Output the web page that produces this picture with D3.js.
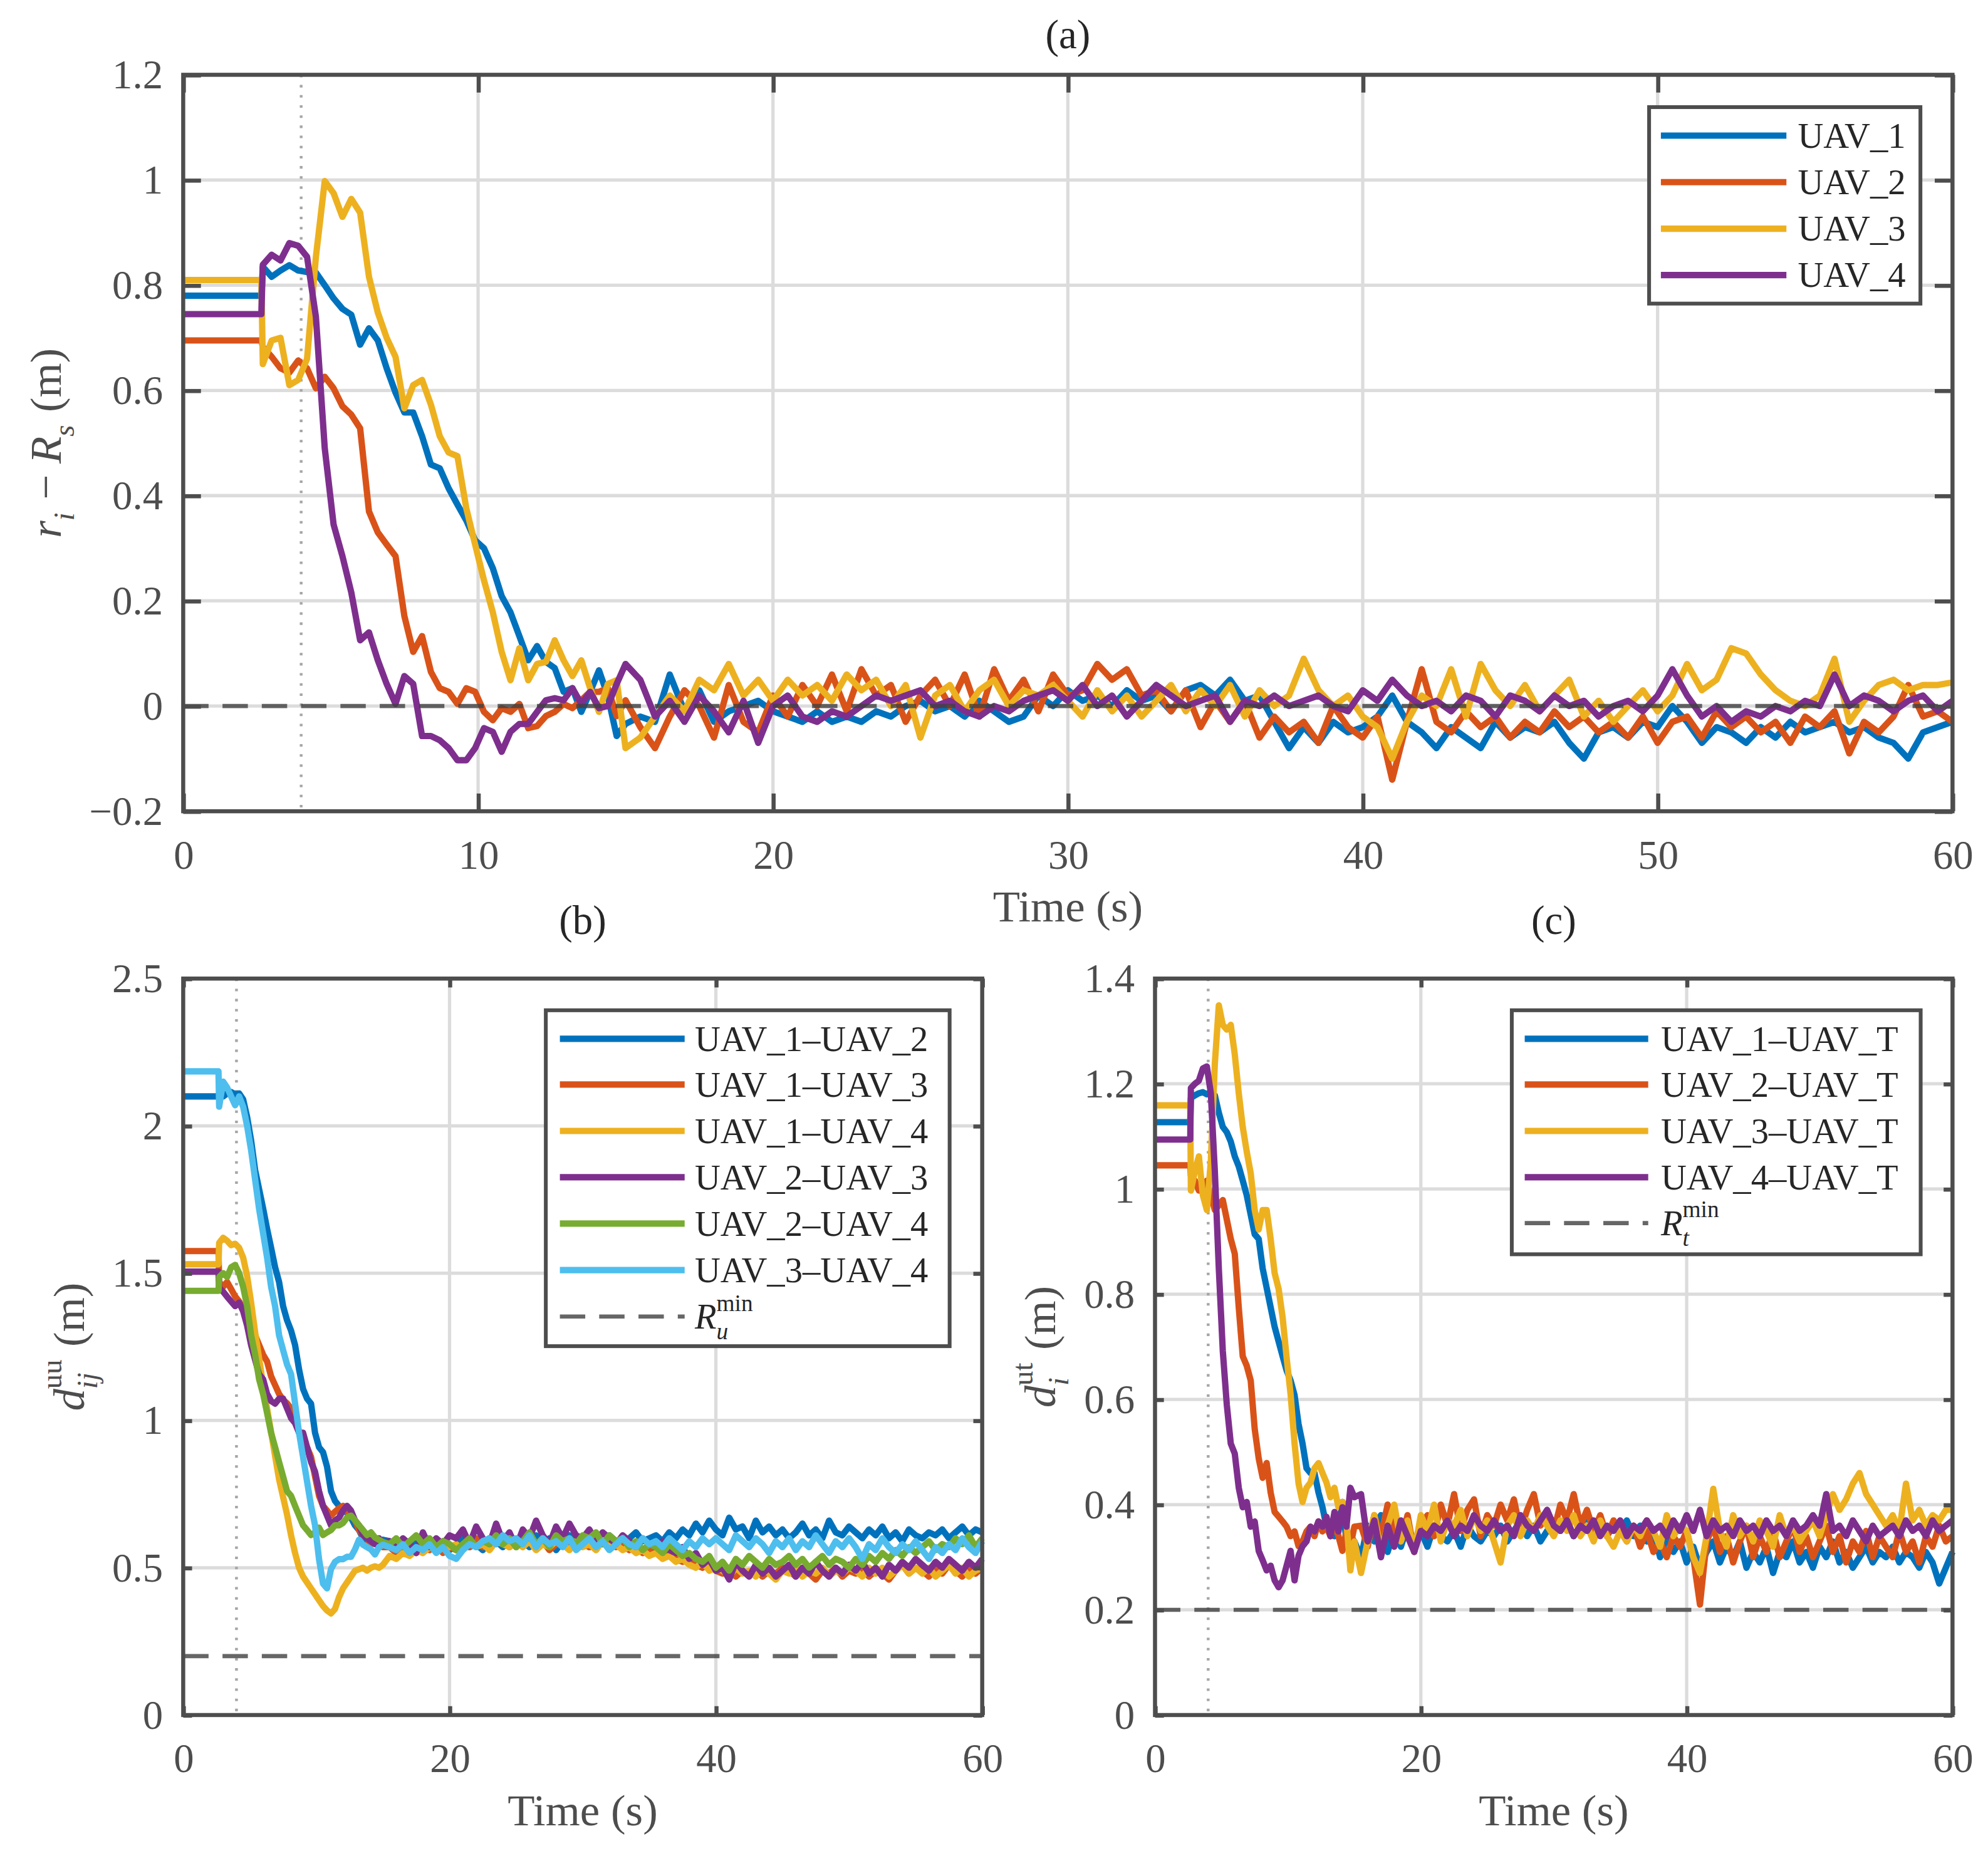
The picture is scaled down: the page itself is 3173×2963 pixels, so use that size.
<!DOCTYPE html>
<html>
<head>
<meta charset="UTF-8">
<title>UAV distances</title>
<script src="https://d3js.org/d3.v7.min.js"></script>
<style>
body { margin: 0; background: #fff; }
</style>
</head>
<body>
<div id="chart"></div>
<script>

// sample times (s): constant start, transient, steady part
var tStep = [0, 2.65]
var tRise = [2.7, 3.0, 3.3, 3.6, 3.9, 4.2, 4.5, 4.8, 5.1, 5.4,
  5.7, 6.0, 6.3, 6.6, 6.9, 7.2, 7.5, 7.8, 8.1, 8.4,
  8.7, 9.0, 9.3, 9.6, 9.9, 10.2, 10.5, 10.8, 11.1, 11.4,
  11.7, 12.0, 12.3, 12.6, 12.9, 13.2, 13.5, 13.8, 14.1, 14.4,
  14.7, 15.0]
var tTail = [15.5, 16, 16.5, 17, 17.5, 18, 18.5, 19, 19.5, 20,
  20.5, 21, 21.5, 22, 22.5, 23, 23.5, 24, 24.5, 25,
  25.5, 26, 26.5, 27, 27.5, 28, 28.5, 29, 29.5, 30,
  30.5, 31, 31.5, 32, 32.5, 33, 33.5, 34, 34.5, 35,
  35.5, 36, 36.5, 37, 37.5, 38, 38.5, 39, 39.5, 40,
  40.5, 41, 41.5, 42, 42.5, 43, 43.5, 44, 44.5, 45,
  45.5, 46, 46.5, 47, 47.5, 48, 48.5, 49, 49.5, 50,
  50.5, 51, 51.5, 52, 52.5, 53, 53.5, 54, 54.5, 55,
  55.5, 56, 56.5, 57, 57.5, 58, 58.5, 59, 59.5, 60]
var time = tStep.concat(tRise, tTail)
var eventTime = 4

// (a) r_i - R_s
var aNames = ["UAV_1", "UAV_2", "UAV_3", "UAV_4"]
var aUav1 = [0.78, 0.78,
  0.835, 0.816, 0.828, 0.838, 0.828, 0.825, 0.824, 0.80, 0.775, 0.755,
  0.744, 0.687, 0.718, 0.695, 0.642, 0.596, 0.558, 0.558, 0.513, 0.459,
  0.452, 0.414, 0.383, 0.353, 0.315, 0.30, 0.262, 0.209, 0.178, 0.133,
  0.087, 0.114, 0.084, 0.072, 0.027, 0.034, -0.011, 0.027, 0.068, 0.019,
  -0.057, -0.034,
  -0.02, -0.03, 0.06, -0.01, 0.03, -0.03, -0.01, 0.0, 0.01, -0.01,
  -0.02, -0.03, -0.01, -0.03, -0.02, -0.03, -0.01, -0.02, 0.0, 0.01,
  -0.01, 0.0, -0.02, 0.01, -0.01, -0.03, -0.02, 0.02, 0.0, 0.03,
  0.01, 0.02, 0.0, 0.03, 0.01, 0.02, -0.01, 0.03, 0.04, 0.02,
  0.05, 0.01, 0.02, -0.03, -0.08, -0.04, -0.07, -0.03, -0.05, -0.04,
  -0.02, 0.02, -0.03, -0.05, -0.08, -0.04, -0.06, -0.08, -0.03, -0.06,
  -0.04, -0.05, -0.03, -0.07, -0.1, -0.05, -0.04, -0.06, -0.03, -0.04,
  0.0, -0.03, -0.07, -0.04, -0.05, -0.07, -0.04, -0.06, -0.03, -0.05,
  -0.04, -0.03, -0.05, -0.04, -0.06, -0.07, -0.1, -0.05, -0.04, -0.03]
var aUav2 = [0.695, 0.695,
  0.683, 0.664, 0.642, 0.634, 0.657, 0.642, 0.604, 0.626, 0.604, 0.57,
  0.554, 0.528, 0.37, 0.33, 0.307, 0.285, 0.171, 0.103, 0.133, 0.065,
  0.034, 0.027, 0.004, 0.034, 0.027, -0.011, -0.027, -0.004, -0.011, 0.004,
  -0.042, -0.038, -0.019, -0.011, 0.004, -0.004, 0.011, 0.027, 0.027, 0.034,
  -0.019, 0.011,
  -0.04, -0.08, -0.02, 0.03, 0.0, -0.06, 0.04, -0.03, -0.05, 0.02,
  -0.02, 0.04, 0.0, 0.06, -0.01, 0.07, 0.02, 0.04, -0.03, 0.02,
  0.05, 0.0, 0.06, -0.02, 0.07, 0.01, 0.05, -0.01, 0.06, 0.02,
  0.03, 0.08, 0.05, 0.07, 0.02, 0.03, -0.01, 0.03, -0.04, 0.01,
  -0.03, 0.01, -0.06, -0.02, -0.05, -0.03, -0.07, 0.0, -0.04, -0.06,
  -0.02, -0.14, -0.03, 0.07, -0.03, -0.05, -0.01, -0.04, -0.02, -0.06,
  -0.03, -0.05, -0.01, -0.04, -0.02, -0.05, -0.03, -0.06, -0.02, -0.07,
  -0.03, -0.02, -0.06, -0.01, -0.04, -0.02, -0.05, -0.03, -0.07, -0.02,
  -0.04, -0.01, -0.09, -0.03, -0.05, -0.02, 0.04, -0.02, -0.01, -0.03]
var aUav3 = [0.81, 0.81,
  0.65, 0.695, 0.70, 0.61, 0.62, 0.66, 0.854, 0.998, 0.975, 0.93,
  0.964, 0.938, 0.816, 0.748, 0.70, 0.664, 0.566, 0.61, 0.62, 0.573,
  0.513, 0.482, 0.475, 0.376, 0.307, 0.239, 0.178, 0.103, 0.049, 0.11,
  0.049, 0.08, 0.084, 0.125, 0.087, 0.057, 0.087, 0.034, -0.011, 0.042,
  0.049, -0.08,
  -0.06, -0.02, 0.02, -0.01, 0.05, 0.03, 0.08, 0.02, 0.05, 0.01,
  0.05, 0.02, 0.04, 0.01, 0.06, 0.03, 0.05, 0.0, 0.04, -0.06,
  0.02, 0.04, -0.01, 0.03, 0.05, 0.0, 0.03, 0.02, 0.04, 0.01,
  -0.02, 0.03, -0.01, 0.02, -0.02, 0.01, 0.04, -0.01, 0.03, 0.0,
  0.04, -0.02, 0.03, 0.0, 0.02, 0.09, 0.03, 0.0, 0.02, -0.02,
  -0.04, -0.1, -0.03, 0.02, 0.0, 0.07, -0.02, 0.08, 0.03, 0.0,
  0.04, -0.01, 0.02, 0.05, -0.02, 0.01, -0.03, 0.0, 0.03, -0.01,
  0.02, 0.08, 0.03, 0.05, 0.11, 0.1, 0.06, 0.03, 0.01, 0.0,
  0.02, 0.09, -0.03, 0.01, 0.04, 0.05, 0.03, 0.04, 0.04, 0.045]
var aUav4 = [0.745, 0.745,
  0.839, 0.858, 0.847, 0.88, 0.875, 0.854, 0.74, 0.49, 0.345, 0.285,
  0.216, 0.125, 0.14, 0.087, 0.042, 0.004, 0.057, 0.042, -0.057, -0.057,
  -0.065, -0.08, -0.103, -0.103, -0.08, -0.042, -0.049, -0.087, -0.049, -0.034,
  -0.034, -0.011, 0.011, 0.015, 0.011, 0.034, 0.004, 0.027, -0.004, 0,
  0.042, 0.08,
  0.05, -0.02, 0.01, -0.03, 0.02, -0.01, -0.05, 0.01, -0.07, 0.0,
  0.02, -0.02, -0.03, -0.01, -0.02, 0.0, 0.02, 0.01, 0.02, 0.03,
  0.0, 0.01, -0.01, -0.02, 0.0, -0.01, 0.01, 0.02, 0.03, 0.01,
  0.04, 0.0, 0.02, -0.02, 0.01, 0.04, 0.02, 0.0, 0.01, 0.02,
  -0.03, 0.01, 0.0, 0.02, 0.0, 0.01, 0.02, 0.0, -0.01, 0.03,
  0.01, 0.05, 0.02, 0.0, 0.01, -0.01, 0.02, 0.01, -0.02, 0.02,
  0.01, -0.01, 0.02, 0.0, 0.01, -0.02, 0.0, 0.01, -0.01, 0.02,
  0.07, 0.02, -0.02, 0.0, -0.03, -0.01, -0.02, 0.0, -0.01, 0.01,
  0.0, 0.06, 0.0, 0.02, 0.01, -0.01, 0.01, 0.02, -0.01, 0.01]

// (b) UAV-UAV distances
var bNames = ["UAV_1\u2013UAV_2", "UAV_1\u2013UAV_3", "UAV_1\u2013UAV_4",
  "UAV_2\u2013UAV_3", "UAV_2\u2013UAV_4", "UAV_3\u2013UAV_4"]
var b12 = [2.10, 2.10,
  2.11, 2.10, 2.11, 2.115, 2.107, 2.11, 2.09, 2.03, 1.95, 1.85,
  1.785, 1.72, 1.65, 1.586, 1.52, 1.47, 1.388, 1.34, 1.305, 1.256,
  1.173, 1.107, 1.074, 1.057, 0.958, 0.909, 0.892, 0.843, 0.76, 0.727,
  0.71, 0.702, 0.686, 0.67, 0.644, 0.628, 0.6, 0.595, 0.59, 0.6,
  0.585, 0.595,
  0.59, 0.58, 0.57, 0.59, 0.58, 0.6, 0.58, 0.57, 0.59, 0.56,
  0.58, 0.6, 0.57, 0.58, 0.56, 0.6, 0.59, 0.57, 0.6, 0.58,
  0.59, 0.57, 0.61, 0.58, 0.6, 0.56, 0.59, 0.61, 0.58, 0.6,
  0.57, 0.6, 0.58, 0.61, 0.59, 0.58, 0.6, 0.62, 0.59, 0.6,
  0.61, 0.59, 0.62, 0.6, 0.63, 0.61, 0.65, 0.62, 0.66, 0.63,
  0.61, 0.67, 0.63, 0.64, 0.6, 0.66, 0.62, 0.64, 0.61, 0.63,
  0.6, 0.62, 0.65, 0.61, 0.63, 0.6, 0.66, 0.62, 0.61, 0.64,
  0.62, 0.6, 0.63, 0.61, 0.64, 0.6, 0.62, 0.59, 0.63, 0.61,
  0.6, 0.62, 0.61, 0.63, 0.6, 0.62, 0.64, 0.61, 0.63, 0.62]
var b13 = [1.575, 1.575,
  1.47, 1.454, 1.47, 1.446, 1.421, 1.404, 1.38, 1.355, 1.322, 1.289,
  1.256, 1.223, 1.2, 1.15, 1.12, 1.09, 1.07, 1.058, 1.04, 1.025,
  0.958, 0.925, 0.909, 0.876, 0.81, 0.744, 0.71, 0.694, 0.677, 0.69,
  0.702, 0.71, 0.69, 0.677, 0.661, 0.628, 0.61, 0.6, 0.58, 0.59,
  0.575, 0.57,
  0.57, 0.55, 0.58, 0.56, 0.55, 0.57, 0.56, 0.58, 0.55, 0.57,
  0.56, 0.58, 0.57, 0.6, 0.57, 0.59, 0.58, 0.6, 0.57, 0.59,
  0.58, 0.6, 0.57, 0.59, 0.56, 0.58, 0.6, 0.57, 0.59, 0.58,
  0.57, 0.6, 0.58, 0.59, 0.57, 0.58, 0.56, 0.57, 0.55, 0.56,
  0.55, 0.54, 0.56, 0.53, 0.52, 0.54, 0.51, 0.5, 0.52, 0.49,
  0.48, 0.5, 0.47, 0.49, 0.48, 0.5, 0.47, 0.49, 0.48, 0.5,
  0.49, 0.47, 0.5, 0.48, 0.46, 0.49, 0.48, 0.5, 0.47, 0.49,
  0.48, 0.5, 0.47, 0.49, 0.48, 0.46, 0.49, 0.51, 0.48, 0.5,
  0.49, 0.47, 0.5, 0.48, 0.51, 0.49, 0.47, 0.5, 0.48, 0.5]
var b14 = [1.53, 1.53,
  1.603, 1.62, 1.61, 1.595, 1.60, 1.586, 1.553, 1.49, 1.40, 1.30,
  1.21, 1.12, 1.04, 0.96, 0.88, 0.80, 0.74, 0.68, 0.61, 0.55,
  0.50, 0.47, 0.45, 0.43, 0.41, 0.39, 0.37, 0.355, 0.345, 0.36,
  0.40, 0.43, 0.45, 0.47, 0.49, 0.495, 0.50, 0.49, 0.50, 0.505,
  0.50, 0.51,
  0.54, 0.53, 0.55, 0.54, 0.56, 0.55, 0.57, 0.56, 0.58, 0.57,
  0.58, 0.56, 0.59, 0.57, 0.58, 0.56, 0.59, 0.58, 0.57, 0.59,
  0.57, 0.59, 0.56, 0.58, 0.57, 0.59, 0.58, 0.56, 0.59, 0.57,
  0.58, 0.56, 0.59, 0.57, 0.58, 0.56, 0.57, 0.55, 0.56, 0.54,
  0.55, 0.53, 0.54, 0.52, 0.53, 0.51, 0.5, 0.52, 0.49, 0.5,
  0.49, 0.47, 0.5, 0.48, 0.49, 0.47, 0.5, 0.48, 0.46, 0.49,
  0.48, 0.5, 0.47, 0.49, 0.48, 0.5, 0.47, 0.49, 0.48, 0.5,
  0.49, 0.47, 0.5, 0.48, 0.5, 0.47, 0.49, 0.51, 0.48, 0.5,
  0.48, 0.5, 0.47, 0.49, 0.51, 0.48, 0.5, 0.47, 0.49, 0.5]
var b23 = [1.505, 1.505,
  1.45, 1.437, 1.42, 1.404, 1.388, 1.40, 1.371, 1.322, 1.256, 1.206,
  1.157, 1.14, 1.09, 1.066, 1.057, 1.074, 1.074, 1.041, 1.008, 0.991,
  0.958, 0.958, 0.909, 0.859, 0.826, 0.76, 0.71, 0.677, 0.644, 0.661,
  0.67, 0.694, 0.71, 0.694, 0.661, 0.644, 0.611, 0.6, 0.59, 0.58,
  0.6, 0.585,
  0.59, 0.56, 0.6, 0.58, 0.55, 0.62, 0.57, 0.6, 0.58, 0.61,
  0.6, 0.63, 0.58, 0.64, 0.6, 0.58, 0.65, 0.59, 0.62, 0.57,
  0.63, 0.6, 0.66, 0.61, 0.58, 0.64, 0.6, 0.65, 0.61, 0.6,
  0.63, 0.59, 0.62, 0.6, 0.58, 0.61, 0.59, 0.57, 0.6, 0.58,
  0.57, 0.59, 0.56, 0.55, 0.57, 0.53, 0.55, 0.51, 0.53, 0.49,
  0.5, 0.46, 0.52, 0.49, 0.47, 0.51, 0.48, 0.5, 0.47, 0.49,
  0.51, 0.47, 0.5, 0.48, 0.52, 0.49, 0.47, 0.5, 0.48, 0.51,
  0.49, 0.52, 0.48, 0.5, 0.47, 0.51, 0.49, 0.52, 0.5, 0.53,
  0.51, 0.49, 0.52, 0.5, 0.53, 0.51, 0.49, 0.52, 0.5, 0.53]
var b24 = [1.44, 1.44,
  1.487, 1.5, 1.487, 1.52, 1.528, 1.5, 1.454, 1.388, 1.289, 1.223,
  1.14, 1.09, 1.025, 0.958, 0.909, 0.859, 0.81, 0.76, 0.744, 0.71,
  0.677, 0.644, 0.628, 0.611, 0.62, 0.636, 0.611, 0.62, 0.628, 0.644,
  0.644, 0.652, 0.67, 0.677, 0.661, 0.644, 0.628, 0.611, 0.62, 0.603,
  0.595, 0.587,
  0.58, 0.6, 0.57, 0.59, 0.61, 0.58, 0.6, 0.57, 0.59, 0.58,
  0.56, 0.58, 0.6, 0.57, 0.59, 0.58, 0.61, 0.58, 0.6, 0.57,
  0.59, 0.62, 0.58, 0.6, 0.57, 0.61, 0.59, 0.6, 0.58, 0.61,
  0.6, 0.62, 0.58, 0.61, 0.59, 0.6, 0.57, 0.59, 0.56, 0.58,
  0.57, 0.55, 0.58, 0.56, 0.54, 0.55, 0.53, 0.52, 0.54, 0.5,
  0.52, 0.49, 0.53, 0.51, 0.54, 0.52, 0.5, 0.53, 0.51, 0.52,
  0.54, 0.51, 0.53, 0.5, 0.52, 0.54, 0.51, 0.53, 0.52, 0.5,
  0.53, 0.51, 0.54, 0.52, 0.55, 0.53, 0.56, 0.54, 0.57, 0.55,
  0.57, 0.59, 0.56, 0.58, 0.57, 0.6, 0.58, 0.61, 0.57, 0.6]
var b34 = [2.185, 2.185,
  2.065, 2.15, 2.13, 2.1, 2.07, 2.1, 2.065, 2.0, 1.917, 1.818,
  1.718, 1.636, 1.553, 1.454, 1.388, 1.289, 1.239, 1.19, 1.157, 1.058,
  0.958, 0.876, 0.793, 0.71, 0.644, 0.529, 0.446, 0.43, 0.496, 0.52,
  0.529, 0.529, 0.537, 0.537, 0.562, 0.595, 0.578, 0.57, 0.562, 0.545,
  0.57, 0.578,
  0.57, 0.56, 0.58, 0.55, 0.57, 0.56, 0.58, 0.55, 0.57, 0.54,
  0.53, 0.56, 0.58, 0.57, 0.59, 0.6, 0.58, 0.61, 0.59, 0.6,
  0.58, 0.61, 0.57, 0.6, 0.58, 0.59, 0.57, 0.6, 0.56, 0.58,
  0.6, 0.57, 0.59, 0.56, 0.58, 0.6, 0.58, 0.57, 0.6, 0.58,
  0.59, 0.57, 0.6, 0.58, 0.56, 0.59, 0.57, 0.6, 0.58, 0.6,
  0.58, 0.56, 0.61, 0.59, 0.57, 0.6, 0.58, 0.55, 0.59, 0.57,
  0.6, 0.56, 0.59, 0.57, 0.61, 0.58, 0.55, 0.59, 0.57, 0.6,
  0.57, 0.53, 0.58, 0.56, 0.6, 0.57, 0.55, 0.58, 0.56, 0.59,
  0.56, 0.53, 0.57, 0.55, 0.58, 0.56, 0.6, 0.57, 0.55, 0.59]

// (c) UAV-target distances
var cNames = ["UAV_1\u2013UAV_T", "UAV_2\u2013UAV_T", "UAV_3\u2013UAV_T", "UAV_4\u2013UAV_T"]
var c1 = [1.127, 1.127,
  1.173, 1.178, 1.182, 1.184, 1.18, 1.184, 1.178, 1.145, 1.118, 1.108,
  1.09, 1.062, 1.043, 1.016, 0.988, 0.951, 0.914, 0.905, 0.849, 0.812,
  0.775, 0.738, 0.71, 0.682, 0.655, 0.636, 0.608, 0.553, 0.516, 0.469,
  0.46, 0.46, 0.423, 0.395, 0.358, 0.349, 0.34, 0.358, 0.405, 0.33,
  0.34, 0.33,
  0.3, 0.36, 0.33, 0.38, 0.31, 0.35, 0.32, 0.36, 0.33, 0.35,
  0.32, 0.36, 0.34, 0.33, 0.35, 0.32, 0.36, 0.34, 0.33, 0.35,
  0.34, 0.36, 0.33, 0.35, 0.37, 0.34, 0.36, 0.33, 0.35, 0.37,
  0.35, 0.37, 0.34, 0.36, 0.38, 0.35, 0.37, 0.34, 0.36, 0.35,
  0.37, 0.34, 0.36, 0.33, 0.35, 0.3, 0.34, 0.31, 0.33, 0.29,
  0.32, 0.28, 0.31, 0.33, 0.29, 0.32, 0.3, 0.33, 0.28, 0.31,
  0.29, 0.32, 0.27, 0.31, 0.3, 0.33, 0.29, 0.31, 0.28, 0.32,
  0.3, 0.33, 0.29, 0.31, 0.28, 0.3, 0.32, 0.29, 0.31, 0.3,
  0.32, 0.29, 0.31, 0.3, 0.28, 0.31, 0.29, 0.25, 0.28, 0.31]
var c2 = [1.045, 1.045,
  1.025, 1.016, 0.997, 1.006, 1.016, 0.988, 0.96, 0.969, 0.979, 0.942,
  0.905, 0.877, 0.775, 0.682, 0.664, 0.636, 0.544, 0.488, 0.451, 0.479,
  0.423, 0.386, 0.377, 0.368, 0.358, 0.34, 0.349, 0.321, 0.33, 0.349,
  0.358, 0.34, 0.368, 0.349, 0.358, 0.34, 0.368, 0.34, 0.312, 0.349,
  0.321, 0.358,
  0.36, 0.32, 0.38, 0.34, 0.4, 0.35, 0.33, 0.38, 0.31, 0.36,
  0.38, 0.34, 0.4, 0.36, 0.42, 0.35, 0.39, 0.41, 0.34, 0.38,
  0.36, 0.4, 0.37, 0.41, 0.35, 0.39, 0.42, 0.36, 0.38, 0.35,
  0.4, 0.37, 0.42, 0.36, 0.39, 0.35, 0.38, 0.34, 0.37, 0.35,
  0.33, 0.36, 0.32, 0.35, 0.31, 0.33, 0.3, 0.34, 0.32, 0.35,
  0.3, 0.21, 0.33, 0.36, 0.31, 0.34, 0.29, 0.33, 0.36, 0.3,
  0.34, 0.31, 0.35, 0.3, 0.33, 0.36, 0.31, 0.34, 0.3, 0.33,
  0.36, 0.31, 0.34, 0.29, 0.33, 0.31, 0.35, 0.3, 0.34, 0.32,
  0.3, 0.35, 0.31, 0.33, 0.29, 0.34, 0.32, 0.36, 0.33, 0.34]
var c3 = [1.159, 1.159,
  0.997, 1.034, 1.062, 0.988, 0.96, 1.053, 1.238, 1.349, 1.312, 1.303,
  1.312, 1.256, 1.182, 1.118, 1.071, 1.03, 0.96, 0.923, 0.96, 0.96,
  0.905, 0.84, 0.81, 0.756, 0.68, 0.61, 0.516, 0.44, 0.405, 0.432,
  0.442, 0.469, 0.479, 0.46, 0.442, 0.414, 0.432, 0.395, 0.405, 0.368,
  0.275, 0.33,
  0.27, 0.33, 0.38, 0.31, 0.36, 0.4, 0.33, 0.37, 0.31, 0.38,
  0.35, 0.4, 0.33, 0.37, 0.36, 0.39, 0.34, 0.38, 0.35, 0.37,
  0.33, 0.29, 0.36, 0.38, 0.34, 0.37, 0.35, 0.38, 0.36, 0.34,
  0.37, 0.35, 0.38, 0.34, 0.36, 0.33, 0.37, 0.34, 0.32, 0.35,
  0.33, 0.36, 0.34, 0.37, 0.35, 0.32, 0.38, 0.34, 0.36, 0.35,
  0.3, 0.27, 0.34, 0.43, 0.35, 0.32, 0.38, 0.34, 0.36, 0.33,
  0.37, 0.35, 0.32, 0.38, 0.34, 0.36, 0.33, 0.35, 0.37, 0.34,
  0.38, 0.42, 0.39, 0.41, 0.44, 0.46, 0.42, 0.4, 0.38, 0.36,
  0.38, 0.35, 0.44, 0.37, 0.39, 0.36, 0.38, 0.37, 0.39, 0.39]
var c4 = [1.094, 1.094,
  1.192, 1.2, 1.206, 1.229, 1.233, 1.182, 1.034, 0.849, 0.692, 0.59,
  0.516, 0.497, 0.432, 0.395, 0.405, 0.358, 0.368, 0.312, 0.294, 0.275,
  0.284, 0.256, 0.243, 0.256, 0.284, 0.312, 0.256, 0.303, 0.321, 0.33,
  0.358, 0.349, 0.368, 0.358, 0.377, 0.34, 0.386, 0.349, 0.395, 0.358,
  0.432, 0.414,
  0.42, 0.33, 0.37, 0.3, 0.36, 0.32, 0.37, 0.34, 0.31, 0.35,
  0.34, 0.36, 0.35, 0.37, 0.34, 0.36, 0.35, 0.38, 0.36, 0.35,
  0.37, 0.35, 0.36, 0.34, 0.38, 0.36, 0.35, 0.37, 0.39, 0.36,
  0.35, 0.37, 0.34, 0.36, 0.35, 0.37, 0.34, 0.36, 0.35, 0.37,
  0.34, 0.36, 0.35, 0.37, 0.35, 0.36, 0.34, 0.37, 0.35, 0.38,
  0.35, 0.39, 0.34, 0.37, 0.35, 0.36, 0.34, 0.37, 0.35, 0.36,
  0.34, 0.37, 0.35, 0.36, 0.34, 0.37, 0.35, 0.36, 0.38, 0.36,
  0.42, 0.35, 0.36, 0.34, 0.37, 0.35, 0.33, 0.36, 0.34, 0.35,
  0.36, 0.34, 0.37, 0.35, 0.36, 0.34, 0.37, 0.35, 0.36, 0.37]

var aTicksY = [-0.2, 0, 0.2, 0.4, 0.6, 0.8, 1, 1.2]
var bTicksY = [0, 0.5, 1, 1.5, 2, 2.5]
var cTicksY = [0, 0.2, 0.4, 0.6, 0.8, 1, 1.2, 1.4]
var aTicksX = [0, 10, 20, 30, 40, 50, 60]
var bcTicksX = [0, 20, 40, 60]
var refA = 0, refB = 0.2, refC = 0.2

// drawing (units are a 1568 wide page, scaled up by the viewBox)

var FONT = "'Liberation Serif', 'Times New Roman', serif"
var AXIS = "#4d4d4d", GRID = "#dcdcdc", INK = "#262626", REF = "#404040"
var colors = ["#0072BD", "#D95319", "#EDB120", "#7E2F8E", "#77AC30", "#4DBEEE"]
var W = 1568, H = 1464.2
var LW = 5

var svg = d3.select("#chart").append("svg")
  .attr("width", 3173).attr("height", 2963)
  .attr("viewBox", "0 0 " + W + " " + H)
  .style("background", "#fff")
  .attr("font-family", FONT)

// text made of pieces: plain, italic, or a stacked super/subscript
function mathText(parent, x, y, pieces, size, rotate, anchor, fill) {
  var g = parent.append("g")
    .attr("transform", "translate(" + x + "," + y + ")" + (rotate ? " rotate(-90)" : ""))
  var cx = 0
  pieces.forEach(function(p) {
    if (p.sup !== undefined || p.sub !== undefined) {
      var w = 0
      if (p.sup) {
        var s = g.append("text").attr("x", cx).attr("y", -0.5 * size)
          .attr("font-size", size * 0.66).text(p.sup)
        w = Math.max(w, s.node().getComputedTextLength())
      }
      if (p.sub) {
        var b = g.append("text").attr("x", cx).attr("y", 0.3 * size)
          .attr("font-size", size * 0.66).attr("font-style", "italic").text(p.sub)
        w = Math.max(w, b.node().getComputedTextLength())
      }
      cx += w + 0.04 * size
    } else {
      var t = g.append("text").attr("x", cx).attr("y", 0)
        .attr("font-size", size).style("white-space", "pre")
        .attr("font-style", p.it ? "italic" : null).text(p.t)
      cx += t.node().getComputedTextLength()
    }
  })
  if (anchor == "middle") {
    g.selectAll("text").attr("x", function() { return +this.getAttribute("x") - cx / 2 })
  }
  g.selectAll("text").attr("fill", fill)
  return g
}

function drawPanel(p) {
  var x = d3.scaleLinear().domain([0, 60]).range([p.left, p.right])
  var y = d3.scaleLinear().domain(p.yDomain).range([p.bottom, p.top])
  var g = svg.append("g")

  // grid
  g.selectAll(".gx").data(p.xTicks).enter().append("line")
    .attr("x1", function(d) { return x(d) }).attr("x2", function(d) { return x(d) })
    .attr("y1", p.top).attr("y2", p.bottom)
    .attr("stroke", GRID).attr("stroke-width", 2.6)
  g.selectAll(".gy").data(p.yTicks).enter().append("line")
    .attr("y1", function(d) { return y(d) }).attr("y2", function(d) { return y(d) })
    .attr("x1", p.left).attr("x2", p.right)
    .attr("stroke", GRID).attr("stroke-width", 2.6)

  // event marker
  g.append("line")
    .attr("x1", x(eventTime)).attr("x2", x(eventTime)).attr("y1", p.top).attr("y2", p.bottom)
    .attr("stroke", "#a6a6a6").attr("stroke-width", 2.2).attr("stroke-dasharray", "2,6")

  // series
  var line = d3.line()
    .x(function(d, i) { return x(time[i]) })
    .y(function(d) { return y(d) })
  p.series.forEach(function(s, k) {
    g.append("path").attr("d", line(s.slice(0, time.length)))
      .attr("fill", "none").attr("stroke", colors[k]).attr("stroke-width", LW)
      .attr("stroke-linejoin", "round")
  })

  // reference level
  g.append("line")
    .attr("x1", x(0)).attr("x2", x(60)).attr("y1", y(p.ref)).attr("y2", y(p.ref))
    .attr("stroke", REF).attr("stroke-opacity", 0.8).attr("stroke-width", 3.3)
    .attr("stroke-dasharray", "20,11")

  // axes, ticks inward on all four sides
  var fmt = d3.format("~g")
  var ax = [
    ["translate(0," + p.bottom + ")", d3.axisBottom(x).tickValues(p.xTicks).tickPadding(22.5).tickFormat(fmt)],
    ["translate(" + p.left + ",0)", d3.axisLeft(y).tickValues(p.yTicks).tickPadding(16).tickFormat(fmt)],
    ["translate(0," + p.top + ")", d3.axisTop(x).tickValues(p.xTicks).tickFormat("")],
    ["translate(" + p.right + ",0)", d3.axisRight(y).tickValues(p.yTicks).tickFormat("")]
  ]
  ax.forEach(function(a) {
    var ag = g.append("g").attr("transform", a[0])
      .call(a[1].tickSizeInner(-p.tick).tickSizeOuter(0))
    ag.select(".domain").remove()
    ag.attr("font-family", FONT).attr("font-size", 32)
    ag.selectAll("line").attr("stroke", AXIS).attr("stroke-width", 3.2)
    ag.selectAll("text").attr("fill", AXIS)
  })
  g.append("rect")
    .attr("x", p.left).attr("y", p.top)
    .attr("width", p.right - p.left).attr("height", p.bottom - p.top)
    .attr("fill", "none").attr("stroke", AXIS).attr("stroke-width", 3.2)

  // labels
  g.append("text").attr("x", (p.left + p.right) / 2).attr("y", p.bottom + 87)
    .attr("text-anchor", "middle").attr("font-size", 35).attr("fill", AXIS)
    .text("Time (s)")
  mathText(g, p.ylabelX, (p.top + p.bottom) / 2, p.ylabel, 35, true, "middle", AXIS)
  svg.append("text").attr("x", (p.left + p.right) / 2).attr("y", p.titleY)
    .attr("text-anchor", "middle").attr("font-size", 32).attr("fill", INK)
    .text(p.title)

  // legend
  var L = p.legend
  var lg = g.append("g")
  lg.append("rect").attr("x", L.x).attr("y", L.y).attr("width", L.w).attr("height", L.h)
    .attr("fill", "#fff").attr("stroke", AXIS).attr("stroke-width", 3)
  L.names.forEach(function(n, k) {
    lg.append("line").attr("x1", L.lx1).attr("x2", L.lx2)
      .attr("y1", L.rows[k]).attr("y2", L.rows[k])
      .attr("stroke", colors[k]).attr("stroke-width", LW)
    lg.append("text").attr("x", L.tx).attr("y", L.rows[k] + 9.5)
      .attr("font-size", 28).attr("fill", INK).text(n)
  })
  if (L.refLabel) {
    var ry = L.rows[L.names.length]
    lg.append("line").attr("x1", L.lx1).attr("x2", L.lx2).attr("y1", ry).attr("y2", ry)
      .attr("stroke", REF).attr("stroke-opacity", 0.8).attr("stroke-width", 3.3)
      .attr("stroke-dasharray", "20,11")
    mathText(lg, L.tx, ry + 9.5, L.refLabel, 28, false, "start", INK)
  }
}

drawPanel({
  left: 144.5, right: 1540, top: 59, bottom: 640, tick: 14,
  yDomain: [-0.2, 1.2], yTicks: aTicksY, xTicks: aTicksX, ref: refA,
  series: [aUav1, aUav2, aUav3, aUav4],
  title: "(a)", titleY: 38, ylabelX: 48,
  ylabel: [{t: "r", it: true}, {sub: "i"}, {t: " \u2212 "}, {t: "R", it: true}, {sub: "s"}, {t: " (m)"}],
  legend: { x: 1300.7, y: 84.5, w: 214, h: 155, lx1: 1310, lx2: 1409, tx: 1418,
    rows: [107, 143.7, 180.4, 217], names: aNames }
})

drawPanel({
  left: 144.5, right: 774.7, top: 772, bottom: 1353, tick: 7,
  yDomain: [0, 2.5], yTicks: bTicksY, xTicks: bcTicksX, ref: refB,
  series: [b12, b13, b14, b23, b24, b34],
  title: "(b)", titleY: 737, ylabelX: 66,
  ylabel: [{t: "d", it: true}, {sup: "uu", sub: "ij"}, {t: " (m)"}],
  legend: { x: 430.5, y: 797, w: 318.5, h: 265, lx1: 441.6, lx2: 540, tx: 548,
    rows: [819.5, 855.6, 892.2, 928.7, 965.3, 1002, 1038.6], names: bNames,
    refLabel: [{t: "R", it: true}, {sup: "min", sub: "u"}] }
})

drawPanel({
  left: 911, right: 1540, top: 772, bottom: 1353, tick: 7,
  yDomain: [0, 1.4], yTicks: cTicksY, xTicks: bcTicksX, ref: refC,
  series: [c1, c2, c3, c4],
  title: "(c)", titleY: 737, ylabelX: 832,
  ylabel: [{t: "d", it: true}, {sup: "ut", sub: "i"}, {t: " (m)"}],
  legend: { x: 1192.4, y: 797, w: 322.5, h: 192.5, lx1: 1202.6, lx2: 1300, tx: 1310,
    rows: [819.5, 855.6, 892.2, 928.7, 964.9], names: cNames,
    refLabel: [{t: "R", it: true}, {sup: "min", sub: "t"}] }
})

</script>
</body>
</html>
